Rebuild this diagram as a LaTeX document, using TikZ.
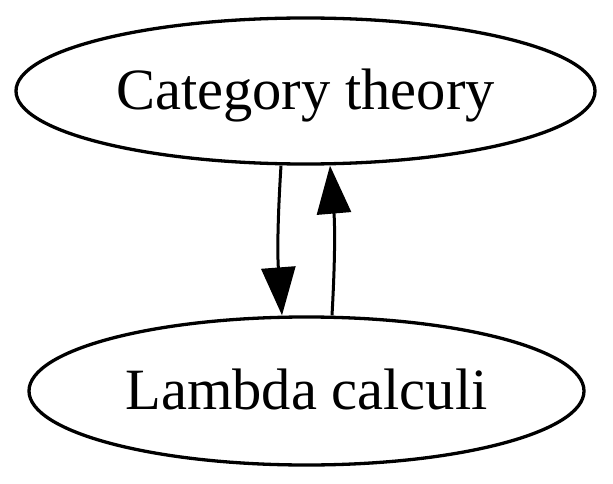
\documentclass[tikz,border=0pt]{standalone}
\usepackage{fontspec}
\setmainfont{Liberation Serif}
\usetikzlibrary{shapes.geometric,arrows.meta}
\begin{document}
\begin{tikzpicture}[x=1pt,y=1pt,
  vertex/.style={draw,ellipse,line width=3.3pt,inner sep=0pt,
    font=\fontsize{58.5}{62}\selectfont,text height=37pt,text depth=0pt},
  edge/.style={line width=3pt,-{Triangle[length=48pt,width=34pt]}}]
\useasboundingbox (0,0) rectangle (613,483);
\node[vertex,minimum width=579pt,minimum height=146pt] (cat) at (305.5,392) {Category theory};
\node[vertex,minimum width=555pt,minimum height=148pt] (lam) at (306.5,92) {Lambda calculi};
\draw[edge] ([xshift=-24.5pt]cat.south) to[bend right=4] ([xshift=-24.5pt]lam.north);
\draw[edge] ([xshift=25.5pt]lam.north) to[bend right=4] ([xshift=24.5pt]cat.south);
\end{tikzpicture}
\end{document}
